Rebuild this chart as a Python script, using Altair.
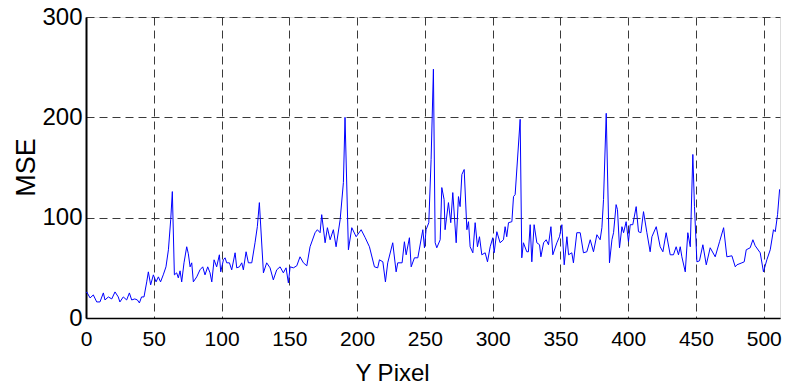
import altair as alt
import pandas as pd

x_vals = [0, 0.5, 3, 5.4, 7.9, 10.3, 12.8, 14, 16.5, 19, 21.4, 23.8, 25, 27.5, 30, 32, 33.7, 36, 37.9, 39.4,
          41, 42.8, 44.8, 46, 47.7, 49.7, 51.7, 53.4, 55, 57, 59, 60.8, 62.5, 63.7, 65.2, 66.9, 68.1, 69.4,
          70.6, 72.3, 74.3, 75.5, 76.8, 78, 79.2, 81.7, 84.1, 86.1, 87.8, 89.8, 91.5, 92.8, 94.5, 96.4, 98.4,
          99.4, 101.4, 102.6, 103.8, 105.8, 107.5, 110, 111.2, 113.2, 114.9, 116.1, 118.1, 119.8, 122.3,
          124.7, 126.4, 127.9, 130.9, 133.3, 135.8, 138.2, 140.7, 143.2, 145.6, 147.6, 149.3, 150.6, 153,
          155.5, 157.9, 160.4, 162.9, 165.3, 169, 170.7, 172.7, 173.9, 176.4, 178.1, 180.1, 182.5, 184.5,
          187.5, 189.9, 191.1, 193.6, 196.1, 199.3, 203, 206, 209.1, 212.8, 215.2, 216.5, 219, 220.9, 222.6,
          226.3, 228.8, 230, 233.2, 234.9, 236.2, 238.6, 239.9, 242.3, 244.8, 248.5, 249.7, 250.9, 252.9,
          254.6, 256.3, 257.6, 258.8, 261.3, 262.5, 264.2, 264.9, 267.4, 269.1, 270.6, 273.1, 274.8, 276,
          277.3, 279, 281, 282.2, 283.4, 285.4, 287.1, 288.8, 290.3, 292, 294.5, 296.2, 298.2, 300.1, 301.1,
          303.1, 305.5, 308, 309.2, 310.4, 311.7, 314.2, 315.4, 316.6, 320.3, 321.5, 322.7, 325.2, 326.4,
          327.7, 328.9, 330.6, 332.6, 334.6, 335.6, 337.6, 339.5, 341.2, 343, 344.4, 347.4, 349.3, 351.1,
          352.8, 354.8, 356, 358.4, 359.6, 362.1, 364.6, 367, 369.5, 372, 374.4, 376.9, 379.3, 380.6, 381.8,
          383.8, 386.2, 388, 389.2, 391.1, 392.1, 393.6, 395.4, 396.6, 398.5, 400.2, 401.5, 403.4, 405.9,
          407.6, 409.4, 411.3, 413.8, 416.2, 417.5, 420.7, 423.6, 425.6, 428, 431, 433.4, 435.4, 437.1,
          438.4, 439.6, 442.1, 444, 445.8, 447.7, 448.9, 450.7, 452.6, 455.1, 457.6, 460.5, 464.2, 467.4,
          470.4, 472.8, 476.5, 479, 480.2, 483.9, 485.6, 487.1, 490, 492, 493.7, 497.4, 499.8, 502.3, 504.8,
          507.2, 508.5, 510.2, 511.7, 512]

mse_vals = [25, 26, 20, 23, 16, 16, 25, 18, 21, 19, 26, 21, 16, 21, 18, 25, 18, 19, 18, 15,
            21, 21, 36, 46, 33, 43, 36, 41, 36, 43, 51, 68, 98, 126, 43, 45, 40, 47,
            36, 55, 71, 64, 51, 55, 36, 41, 48, 51, 43, 51, 45, 36, 58, 51, 63,
            46, 58, 60, 55, 55, 48, 65, 50, 51, 55, 48, 66, 55, 55,
            75, 91, 115, 45, 55, 50, 38, 48, 51, 45, 50, 35, 51, 50,
            52, 61, 55, 52, 71, 85, 88, 85, 103, 75, 90, 78, 88, 71,
            98, 135, 200, 68, 90, 81, 88, 80, 71, 51, 50, 58, 56, 36, 55,
            75, 46, 55, 55, 76, 63, 80, 51, 60, 60, 88, 70, 88, 95,
            158, 248, 75, 70, 78, 130, 118, 88, 115, 95, 125, 75, 121, 111,
            143, 148, 88, 96, 71, 65, 95, 71, 81, 63, 65, 56, 71, 80, 65,
            86, 75, 78, 91, 81, 95, 96, 121, 123, 198, 60, 75, 66, 66,
            93, 56, 93, 75, 73, 61, 75, 78, 73, 91, 63, 75, 81, 93,
            53, 81, 63, 65, 55, 85, 85, 65, 66, 78, 66, 83, 78, 90, 118,
            204, 55, 78, 85, 113, 108, 70, 91, 85, 96, 76, 93, 93, 111,
            86, 85, 106, 85, 66, 81, 91, 71, 66, 85, 63, 63, 71, 63,
            71, 61, 46, 85, 71, 163, 111, 56, 57, 73, 53, 70, 61, 76,
            90, 61, 62, 51, 53, 55, 56, 68, 70, 78, 72, 65, 46, 58, 68,
            88, 86, 103, 128, 128]

x_ticks = [0, 50, 100, 150, 200, 250, 300, 350, 400, 450, 500]
y_ticks = [0, 100, 200, 300]

df = pd.DataFrame({"x": x_vals, "mse": mse_vals})

label_font = "Liberation Sans, Arial, sans-serif"
title_font = "Liberation Sans, Arial, sans-serif"

chart = alt.Chart(df).mark_line(color="#0000ff", strokeWidth=1, clip=True).encode(
    x=alt.X("x:Q", scale=alt.Scale(domain=[0, 512], nice=False, zero=False),
            axis=alt.Axis(values=x_ticks, title="Y Pixel", grid=True,
                          gridDash=[8, 5], gridColor="#3a3a3a", gridWidth=1,
                          domainColor="black", domainWidth=1.5, ticks=False,
                          labelFont=label_font, labelFontSize=21, labelColor="black",
                          labelPadding=10, labelFlush=False,
                          titleFont=title_font, titleFontSize=24, titleFontWeight="normal",
                          titleColor="black", titleX=306, titleY=55, titleBaseline="middle",
                          titleAnchor="start", titleAlign="center")),
    y=alt.Y("mse:Q", scale=alt.Scale(domain=[0, 300], nice=False),
            axis=alt.Axis(values=y_ticks, title="MSE", grid=True,
                          gridDash=[8, 5], gridColor="#3a3a3a", gridWidth=1,
                          domainColor="black", domainWidth=2, ticks=False,
                          labelFont=label_font, labelFontSize=24, labelColor="black",
                          labelPadding=4,
                          titleFont=title_font, titleFontSize=27, titleFontWeight="normal",
                          titleColor="black", titleX=-60, titleY=150, titleAngle=270,
                          titleBaseline="middle", titleAlign="center"))
).properties(
    width=694,
    height=301,
    autosize=alt.AutoSizeParams(type="none"),
    padding={"left": 86, "top": 17, "right": 6, "bottom": 71}
).configure_view(
    stroke="black", strokeWidth=1.2
).configure(background="white")

chart.save("out.html", embed_options={"renderer": "svg", "actions": False})
